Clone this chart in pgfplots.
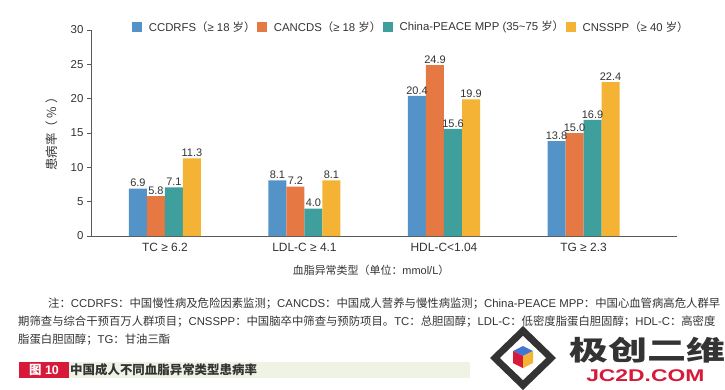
\documentclass[border=0pt]{standalone}
\usepackage{fontspec}
\setmainfont{Liberation Sans}
\newfontfamily\cjk{Noto Sans CJK SC}
\usepackage{pgfplots}
\pgfplotsset{compat=1.18}
\definecolor{cblue}{HTML}{5393C8}
\definecolor{corange}{HTML}{E57843}
\definecolor{cteal}{HTML}{3F9F9C}
\definecolor{cyellow}{HTML}{F4B334}
\definecolor{txt}{HTML}{333333}
\definecolor{capred}{HTML}{D7193A}
\definecolor{capgreen}{HTML}{EEF3E4}
\pgfplotsset{sq/.style={legend image code/.code={\fill[##1] (0bp,-5bp) rectangle (9.5bp,5bp);}}}
\newcommand{\fs}[1]{\fontsize{#1}{#1}\selectfont}
\begin{document}
\begin{tikzpicture}
\useasboundingbox (0,0) rectangle (725bp,-390bp);
\begin{axis}[
  at={(91bp,-236bp)}, anchor=south west,
  scale only axis, width=586bp, height=206bp,
  ymin=0, ymax=30, xmin=-0.53, xmax=3.67,
  ybar=0pt, bar width=18bp,
  axis x line*=bottom, axis y line*=left,
  axis line style={draw=black!65, line width=0.8pt},
  xtick={0,1,2,3},
  xticklabels={TC ≥ 6.2, LDL-C ≥ 4.1, HDL-C<1.04, TG ≥ 2.3},
  xtick style={draw=none},
  x tick label style={font=\fs{12}, text=txt},
  ytick={0,5,10,15,20,25,30},
  ytick style={draw=black!65, line width=0.8pt},
  tick align=outside, major tick length=4bp,
  y tick label style={font=\fs{11.5}, text=txt},
  /pgf/number format/assume math mode=true,
  nodes near coords={\pgfmathprintnumber[fixed,fixed zerofill,precision=1]{\pgfplotspointmeta}},
  nodes near coords style={font=\fs{11}, text=txt, inner sep=1.5bp},
  ylabel={\cjk 患病率（ \% ）},
  ylabel style={at={(axis description cs:-0.067,0.51)}, anchor=center, font=\fs{12.5}, text=txt},
  xlabel={{\cjk 血脂异常类型（单位：}mmol/L{\cjk ）}},
  xlabel style={at={(axis description cs:0.478,-0.165)}, anchor=center, font=\fs{11}, text=txt},
  legend style={draw=none, fill=none, legend columns=4, at={(0.546,1.015)}, anchor=center,
    font=\fs{11.4}, text=txt,
    /tikz/every even column/.append style={column sep=1bp},
    /tikz/every odd column/.append style={column sep=6bp},
    /tikz/every node/.style={inner sep=1bp}},
]
\addplot[fill=cblue, draw=none, sq] coordinates {(0,6.9) (1,8.1) (2,20.4) (3,13.8)};
\addplot[fill=corange, draw=none, sq] coordinates {(0,5.8) (1,7.2) (2,24.9) (3,15.0)};
\addplot[fill=cteal, draw=none, sq] coordinates {(0,7.1) (1,4.0) (2,15.6) (3,16.9)};
\addplot[fill=cyellow, draw=none, sq] coordinates {(0,11.3) (1,8.1) (2,19.9) (3,22.4)};
\legend{CCDRFS{\cjk （}≥ 18 {\cjk 岁）}, CANCDS{\cjk （}≥ 18 {\cjk 岁）}, China-PEACE MPP (35\textasciitilde75 {\cjk 岁）}, CNSSPP{\cjk （}≥ 40 {\cjk 岁）}}
\end{axis}
% notes
\begin{scope}[every node/.style={anchor=west, inner sep=0pt, text=txt, font=\fs{11.4}}]
\node at (48bp,-304bp) {{\cjk 注：}CCDRFS{\cjk ：中国慢性病及危险因素监测；}CANCDS{\cjk ：中国成人营养与慢性病监测；}China-PEACE MPP{\cjk ：中国心血管病高危人群早}};
\node at (18bp,-322bp) {{\cjk 期筛查与综合干预百万人群项目；}CNSSPP{\cjk ：中国脑卒中筛查与预防项目。}TC{\cjk ：总胆固醇；}LDL-C{\cjk ：低密度脂蛋白胆固醇；}HDL-C{\cjk ：高密度}};
\node at (18bp,-340bp) {{\cjk 脂蛋白胆固醇；}TG{\cjk ：甘油三酯}};
\end{scope}
% caption
\fill[capgreen] (69bp,-362bp) rectangle (479bp,-378bp);
\fill[capred] (19bp,-362bp) rectangle (69bp,-378bp);
\node[anchor=center, text=white, font=\fs{12.5}\bfseries, inner sep=0pt] at (44bp,-370bp) {{\cjk 图} 10};
\node[anchor=west, text=txt, font=\fs{12.5}, inner sep=0pt] at (70bp,-370bp) {\cjk\bfseries 中国成人不同血脂异常类型患病率};
% watermark
\fill[white] (470bp,-326bp) rectangle (725bp,-390bp);
\fill[black!80] (523bp,-326bp) -- (556bp,-358bp) -- (523bp,-390bp) -- (490bp,-358bp) -- cycle;
\fill[white] (523bp,-336bp) -- (546bp,-358bp) -- (523bp,-380bp) -- (500bp,-358bp) -- cycle;
\fill[cblue!80!blue] (523bp,-346bp) -- (533bp,-351bp) -- (523bp,-356bp) -- (513bp,-351bp) -- cycle;
\fill[capred] (513bp,-351bp) -- (523bp,-356bp) -- (523bp,-368bp) -- (513bp,-363bp) -- cycle;
\fill[cyellow] (533bp,-351bp) -- (523bp,-356bp) -- (523bp,-368bp) -- (533bp,-363bp) -- cycle;
\node[anchor=west, inner sep=0pt, text=black!80, font=\fs{34}, xscale=1.15, yscale=0.8] at (569bp,-350bp) {\cjk\bfseries 极创二维};
\node[anchor=west, inner sep=0pt, text=capred, font=\fs{17}\bfseries, xscale=1.35] at (586bp,-376bp) {JC2D.COM};
\end{tikzpicture}
\end{document}
